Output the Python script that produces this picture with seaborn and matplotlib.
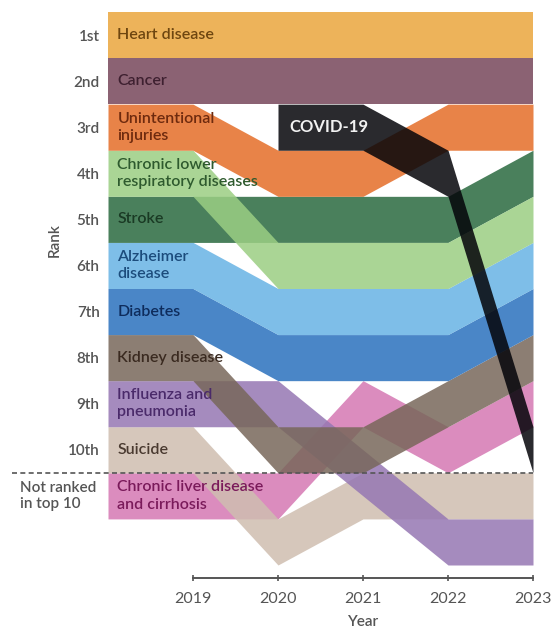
import numpy as np
import pandas as pd
import matplotlib
matplotlib.use("Agg")
import matplotlib.pyplot as plt
import matplotlib.transforms as mtransforms
import seaborn as sns

# ---------------- data ----------------
years = [2019, 2020, 2021, 2022, 2023]
causes = ["Heart disease", "Cancer", "Unintentional injuries",
          "Chronic lower respiratory diseases", "Stroke", "Alzheimer disease",
          "Diabetes", "Kidney disease", "Influenza and pneumonia", "Suicide",
          "Chronic liver disease and cirrhosis", "COVID-19"]
heart_disease = [1, 1, 1, 1, 1]
cancer = [2, 2, 2, 2, 2]
unintentional_injuries = [3, 4, 4, 3, 3]
chronic_lower_respiratory = [4, 6, 6, 6, 5]
stroke = [5, 5, 5, 5, 4]
alzheimer = [6, 7, 7, 7, 6]
diabetes = [7, 8, 8, 8, 7]
kidney_disease = [8, 10, 10, 9, 8]
influenza_pneumonia = [9, 9, 10.5, 12, 12]
suicide = [10, 12, 11, 11, 11]
chronic_liver = [11, 11, 9, 10, 9]
covid19 = [None, 3, 3, 4, 10]
rank_labels = ["1st", "2nd", "3rd", "4th", "5th", "6th", "7th", "8th", "9th", "10th"]
not_ranked_label = "Not ranked\nin top 10"
band_labels = ["Heart disease", "Cancer", "Unintentional\ninjuries",
               "Chronic lower\nrespiratory diseases", "Stroke", "Alzheimer\ndisease",
               "Diabetes", "Kidney disease", "Influenza and\npneumonia", "Suicide",
               "Chronic liver disease\nand cirrhosis", "COVID-19"]

series = [heart_disease, cancer, unintentional_injuries, chronic_lower_respiratory,
          stroke, alzheimer, diabetes, kidney_disease, influenza_pneumonia,
          suicide, chronic_liver, covid19]

rows = []
for c, s in zip(causes, series):
    for y, r in zip(years, s):
        if r is not None:
            rows.append({"cause": c, "year": y, "rank": r})
df = pd.DataFrame(rows)

# ---------------- style ----------------
shown = ["#EDB35A", "#8B6374", "#E98348", "#AAD596", "#4A805C", "#7EBEE8",
         "#4A86C8", "#8C7E73", "#A68BBE", "#D6C8BC", "#DB8CBE", "#2A2A2E"]
text_cols = ["#6E4610", "#3E2030", "#6E2A0E", "#2E5A2E", "#1A3A24", "#1C4C7C",
             "#0E2C5C", "#3A2A20", "#4A2A6A", "#4A3A30", "#7A1A5A", "#F2F2F2"]
ALPHA = 0.85

def base_color(hexc, a=ALPHA):
    rgb = np.array(matplotlib.colors.to_rgb(hexc))
    return tuple(np.clip((rgb - (1 - a)) / a, 0, 1))

palette = sns.color_palette([base_color(c) for c in shown])

sns.set_theme(style="white")
plt.rcParams["font.family"] = ["Lato", "DejaVu Sans"]

W, H = 553, 633
fig = plt.figure(figsize=(W / 100, H / 100), dpi=100)
ax = fig.add_axes([108 / W, 1 - 565 / H, 425 / W, (565 - 12) / H])

draw_order = [0, 1, 10, 9, 8, 7, 6, 5, 4, 3, 2, 11]
for k, i in enumerate(draw_order):
    c = causes[i]
    d = df[df["cause"] == c].sort_values("year")
    xs = list(d["year"])
    rs = list(d["rank"])
    if xs[0] == years[0]:
        xs = [years[0] - 1] + xs
        rs = [rs[0]] + rs
    rs = np.array(rs, dtype=float)
    ax.fill_between(xs, rs - 0.5, rs + 0.5, color=palette[i], alpha=ALPHA,
                    linewidth=0, zorder=2 + k * 0.01)

# band labels
for i, c in enumerate(causes):
    d = df[df["cause"] == c].sort_values("year")
    if c == "COVID-19":
        ax.text(2020.13, d["rank"].iloc[0], band_labels[i], color=text_cols[i],
                fontsize=12, fontweight="bold", va="center", ha="left", zorder=10)
    else:
        ax.text(2018.11, d["rank"].iloc[0], band_labels[i], color=text_cols[i],
                fontsize=11.5, fontweight="semibold", va="center", ha="left",
                linespacing=1.3, zorder=10)

ax.set_xlim(2018, 2023)
ax.set_ylim(12.5, 0.5)
ax.set_xticks(years)
ax.set_xticklabels([str(y) for y in years])
ax.set_yticks(range(1, 11))
ax.set_yticklabels(rank_labels)
ax.tick_params(axis="y", length=0, pad=6, labelsize=11, labelcolor="#555555")
ax.tick_params(axis="x", direction="inout", length=5, width=1.2, color="#555555",
               pad=8, labelsize=11.5, labelcolor="#555555", bottom=True)
for lab in ax.get_xticklabels() + ax.get_yticklabels():
    lab.set_fontweight("semibold")
sns.despine(ax=ax, left=True, offset={"bottom": 9})
ax.spines["bottom"].set_bounds(2019, 2023)
ax.spines["bottom"].set_color("#555555")
ax.spines["bottom"].set_linewidth(1.4)
ax.set_xlabel("")
ax.set_ylabel("")

# dashed separator
trans = mtransforms.blended_transform_factory(fig.transFigure, ax.transData)
ax.plot([12 / W, 533 / W], [10.5, 10.5], transform=trans, color="#555555",
        linestyle=(0, (3, 2)), linewidth=1.2, clip_on=False, zorder=12)
ax.text(20 / W, 11, not_ranked_label, transform=trans, ha="left", va="center",
        fontsize=11, fontweight="semibold", color="#555555", linespacing=1.2)

fig.text(55 / W, 1 - 240 / H, "Rank", rotation=90, ha="center", va="center",
         fontsize=11, fontweight="semibold", color="#555555")
fig.text(363 / W, 1 - 622 / H, "Year", ha="center", va="center",
         fontsize=11, fontweight="semibold", color="#555555")

fig.savefig("out.png", dpi=100)
